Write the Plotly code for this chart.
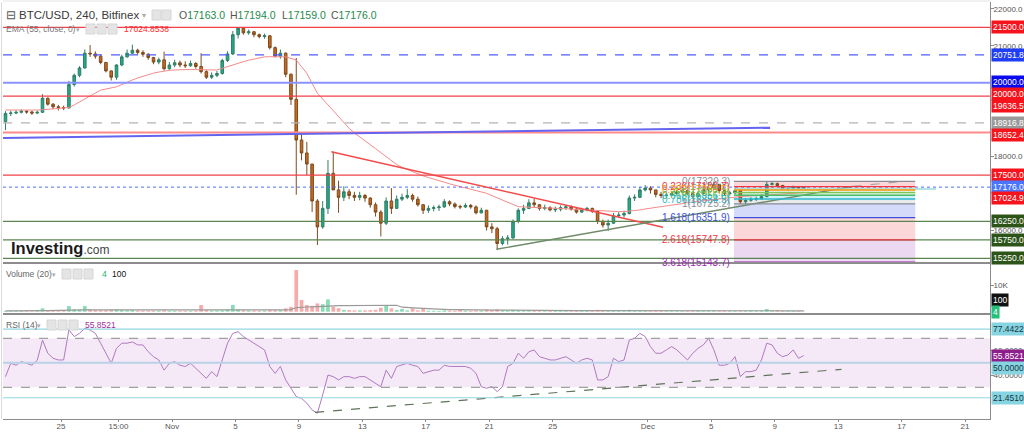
import pandas as pd
import plotly.graph_objects as go

# ---------------- data (8-hour candles) ----------------
CANDLE_START = "2022-10-21 12:00"   # centre of first candle
FIRST_OPEN = 18950

CLOSE = [
    19170, 19180,
    19200, 19230, 19210,  19180, 19200, 19580,  19420, 19350, 19330,
    19320, 19950, 20200,  20400, 20800, 20780,  20720, 20550, 20320,
    20150, 20480, 20700,  20800, 20880, 20820,  20770, 20680, 20560,
    20620, 20380, 20480,  20540, 20480, 20460,  20520, 20440, 20300,
    20150, 20200, 20250,  20600, 20780, 21300,  21480, 21350, 21380,
    21300, 21250, 21270,  20950, 20720, 20800,  20230, 19550, 18450,
    18100, 17800, 16800,  16100, 16600, 17550,  17100, 16900, 17050,
    16950, 16900, 16950,  16880, 16700, 16500,  16200, 16800, 16600,
    16850, 16900, 16950,  16850, 16700, 16550,  16600, 16620, 16640,
    16780, 16720, 16650,  16640, 16680, 16640,  16480, 16550, 16100,
    16050, 15650, 15780,  15800, 16250, 16550,  16600, 16750, 16700,
    16600, 16620, 16560,  16580, 16620, 16640,  16580, 16500, 16560,
    16600, 16520, 16250,  16150, 16200, 16400,  16420, 16460, 16880,
    16900, 17100, 17150,  17100, 16980, 16950,  16960, 17000, 17050,
    17080, 17000, 16920,  17000, 17100, 17150,  17250, 17080, 17000,
    17020, 17080, 16780,  16820, 16850, 16860,  16920, 17250, 17270,
    17220, 17130, 17140,  17180, 17140, 17176,
]
HIGH = [
    19230, 19250,
    19260, 19280, 19260,  19240, 19250, 19690,  19600, 19450, 19400,
    19380, 20050, 20250,  20450, 20900, 21020,  20850, 20750, 20560,
    20330, 20500, 20760,  20900, 21030, 20920,  20880, 20800, 20700,
    20680, 20840, 20560,  20620, 20600, 20580,  20600, 20560, 20800,
    20340, 20280, 20320,  20650, 20850, 21400,  21500, 21480, 21440,
    21400, 21330, 21330,  21290, 20980, 20900,  20820, 20250, 20670,
    18650, 18400, 17800,  16850, 16800, 17910,  18130, 17350, 17200,
    17120, 17050, 17050,  16990, 16900, 16760,  16550, 16900, 17150,
    16950, 17000, 17130,  17000, 16920, 16720,  16680, 16680, 16700,
    16850, 16820, 16760,  16700, 16740, 16720,  16680, 16620, 16560,
    16200, 16100, 15850,  15880, 16300, 16600,  16700, 16850, 16860,
    16720, 16700, 16660,  16650, 16680, 16700,  16680, 16620, 16620,
    16640, 16620, 16550,  16300, 16300, 16480,  16500, 16540, 16950,
    16980, 17180, 17230,  17200, 17100, 17050,  17020, 17060, 17100,
    17150, 17110, 17040,  17050, 17200, 17300,  17330, 17260, 17120,
    17080, 17150, 17120,  16880, 16900, 16920,  16980, 17320, 17310,
    17300, 17240, 17190,  17220, 17200, 17194,
]
LOW = [
    18720, 19100,
    19150, 19170, 19160,  19130, 19150, 19180,  19380, 19280, 19250,
    19260, 19300, 19900,  20150, 20380, 20700,  20650, 20500, 20280,
    20060, 20080, 20450,  20680, 20780, 20760,  20700, 20620, 20500,
    20500, 20330, 20350,  20420, 20420, 20400,  20430, 20380, 20250,
    20100, 20100, 20150,  20220, 20560, 20750,  21200, 21300, 21300,
    21230, 21200, 21190,  20900, 20680, 20650,  20150, 19400, 16970,
    17900, 17500, 16500,  15610, 16050, 16450,  17100, 16480, 16800,
    16850, 16800, 16820,  16780, 16620, 16380,  15840, 16150, 16450,
    16600, 16800, 16850,  16780, 16650, 16450,  16480, 16520, 16530,
    16620, 16660, 16600,  16580, 16610, 16590,  16440, 16460, 16000,
    15930, 15480, 15600,  15620, 15780, 16200,  16450, 16580, 16620,
    16540, 16550, 16520,  16500, 16520, 16560,  16540, 16460, 16480,
    16520, 16480, 16180,  16080, 15990, 16180,  16350, 16350, 16440,
    16800, 16880, 17060,  17000, 16900, 16880,  16880, 16920, 16950,
    17000, 16960, 16880,  16900, 16980, 17050,  17100, 17000, 16950,
    16950, 16980, 16720,  16720, 16780, 16800,  16840, 16900, 17220,
    17180, 17100, 17090,  17120, 17110, 17130,
]
VOLUME = [
    300, 250,
    250, 300, 250,  200, 250, 1250,  500, 400, 300,
    350, 2100, 900,  800, 2100, 900,  600, 500, 500,
    700, 900, 600,  500, 600, 400,  400, 350, 400,
    350, 500, 350,  300, 300, 300,  300, 350, 2500,
    600, 400, 400,  500, 800, 2500,  900, 500, 400,
    350, 300, 350,  600, 500, 500,  1250, 1800, 15600,
    4400, 2500, 2200,  3100, 2800, 4600,  1900, 1300, 700,
    600, 500, 500,  500, 600, 700,  1500, 2500, 1250,
    600, 1000, 500,  1250, 500, 1000,  400, 350, 300,
    500, 400, 350,  700, 400, 300,  400, 350, 800,
    500, 900, 500,  400, 700, 500,  400, 400, 350,
    300, 300, 300,  300, 300, 300,  250, 300, 300,
    300, 300, 700,  400, 400, 400,  300, 300, 700,
    400, 400, 300,  300, 350, 300,  250, 250, 250,
    250, 250, 250,  600, 300, 300,  350, 300, 300,
    250, 250, 300,  300, 400, 300,  300, 1000, 400,
    600, 300, 250,  250, 250, 100,
]
RSI = [
    38.7, 49.6,
    48.0, 51.0, 49.6,  48.0, 52.0, 68.6,  57.8, 53.7, 52.3,
    52.3, 76.8, 71.4,  74.0, 78.2, 76.8,  74.0, 66.0, 57.8,
    49.6, 61.8, 66.0,  66.0, 67.0, 64.6,  64.6, 59.0, 55.0,
    52.3, 44.0, 49.6,  51.0, 48.0, 47.0,  49.6, 45.5, 41.4,
    37.3, 42.8, 38.7,  52.3, 66.0, 74.0,  75.4, 71.4, 68.6,
    66.0, 63.2, 60.5,  47.0, 41.4, 47.0,  36.0, 29.2, 22.4,
    21.0, 17.0, 11.5,  8.8, 23.8, 40.0,  38.7, 36.0, 38.7,
    38.7, 37.3, 38.7,  38.7, 36.0, 33.3,  30.5, 44.0, 37.3,
    47.0, 48.0, 49.6,  48.0, 47.0, 41.4,  42.8, 44.0, 44.0,
    48.0, 47.0, 47.0,  47.0, 47.0, 45.5,  41.4, 30.5, 29.2,
    30.5, 26.5, 30.5,  47.0, 49.6, 57.8,  53.7, 59.0, 60.5,
    55.0, 53.7, 52.3,  52.3, 53.7, 55.0,  52.3, 49.6, 52.3,
    53.7, 52.3, 36.0,  36.0, 38.7, 53.7,  51.0, 52.3, 68.6,
    70.0, 74.0, 71.4,  63.2, 57.8, 57.8,  60.5, 63.2, 60.5,
    56.4, 52.3, 57.8,  61.8, 64.6, 70.0,  60.5, 48.0, 48.0,
    49.6, 55.0, 38.7,  42.8, 42.8, 44.0,  52.3, 66.0, 64.6,
    57.8, 55.0, 56.4,  60.5, 53.7, 55.85,
]
EMA55 = [
    19263, 19260,
    19258, 19255, 19255,  19255, 19260, 19270,  19280, 19290, 19300,
    19308, 19330, 19400,  19480, 19550, 19640,  19720, 19800, 19830,
    19860, 19890, 19950,  20020, 20075, 20130,  20180, 20230, 20260,
    20290, 20320, 20335,  20345, 20355, 20360,  20360, 20355, 20350,
    20345, 20345, 20345,  20390, 20440, 20480,  20530, 20570, 20610,
    20640, 20670, 20700,  20705, 20705, 20705,  20700, 20660, 20615,
    20434, 20254, 19984,  19714, 19560, 19398,  19245, 19082, 18920,
    18767, 18640, 18540,  18433, 18325, 18217,  18109, 18000, 17884,
    17786, 17712, 17650,  17585, 17522, 17480,  17435, 17400, 17355,
    17310, 17265, 17220,  17190, 17155, 17115,  17080, 17045, 17009,
    16946, 16883, 16820,  16757, 16694, 16648,  16640, 16630, 16630,
    16622, 16612, 16612,  16603, 16594, 16594,  16585, 16576, 16576,
    16567, 16558, 16549,  16540, 16531, 16522,  16513, 16513, 16522,
    16540, 16558, 16585,  16603, 16630, 16648,  16675, 16694, 16712,
    16730, 16757, 16775,  16793, 16811, 16829,  16847, 16856, 16874,
    16892, 16910, 16919,  16928, 16937, 16946,  16955, 16964, 16973,
    16982, 16991, 17000,  17009, 17018, 17025,
]
assert len(CLOSE) == len(HIGH) == len(LOW) == len(VOLUME) == len(RSI) == len(EMA55), \
    (len(CLOSE), len(HIGH), len(LOW), len(VOLUME), len(RSI), len(EMA55))

OPEN = [FIRST_OPEN] + CLOSE[:-1]
TIMES = pd.date_range(CANDLE_START, periods=len(CLOSE), freq="8h")

OHLC_LAST = [17163.0, 17194.0, 17159.0, 17176.0]
EMA_LAST = 17024.8538
VOL_LAST = 100
RSI_LAST = 55.8521

RED_LEVELS = [21500.0, 19636.5, 17500.0]
BLUE_DASH_LEVEL = 20751.8
BLUE_LEVEL = 20000.0
GRAY_DASH_LEVEL = 18916.8
PINK_LEVEL = 18652.4
GREEN_LEVELS = [16250.0, 15750.0, 15250.0]
PRICE_TICKS = [16000, 18000, 21000, 22000]

TREND_BLUE_T = ["2022-10-21 08:00", "2022-12-08 17:00"]
TREND_BLUE_P = [18505, 18784]
TREND_RED_T = ["2022-11-11 01:00", "2022-12-01 23:00"]
TREND_RED_P = [18134, 16089]
TREND_GREEN_T = ["2022-11-21 11:00", "2022-12-13 22:00", "2022-12-16 21:40"]
TREND_GREEN_P = [15494, 17195, 17322]
CYAN_RAY_T = ["2022-12-06 10:20", "2022-12-19 04:00"]
CYAN_RAY_P = 17125

FIB_T = ["2022-12-06 10:20", "2022-12-17 20:40"]
FIB_TOP = 17329.3
FIB_ONE = 16725.2
FIB_RATIOS = [0, 0.236, 0.382, 0.5, 0.618, 0.786, 1, 1.618, 2.618, 3.618]

RSI_BANDS = [77.4422, 21.4510]
RSI_TREND_T = ["2022-11-10 00:30", "2022-12-13 05:00"]
RSI_TREND_V = [9.6, 44.7]

X_TICKS = ["2022-10-25", "2022-10-28 15:00", "2022-11-01", "2022-11-05", "2022-11-09",
           "2022-11-13", "2022-11-17", "2022-11-21", "2022-11-25", "2022-12-01",
           "2022-12-05", "2022-12-09", "2022-12-13", "2022-12-17", "2022-12-21"]
X_TICK_TEXT = ["25", "15:00", "Nov", "5", "9", "13", "17", "21", "25", "Dec",
               "5", "9", "13", "17", "21"]

# ---------------- layout calibration (pixels) ----------------
W, HGT = 1024, 432
PL, PR, PT, PB = 3, 990, 2, 419
SEP1, SEP2 = 263, 314

def pxx(x):
    return (x - PL) / (PR - PL)

def pxy(y):
    return (PB - y) / (PB - PT)

def price_at(y):
    return 21500 - (y - 27.3) / 0.03696

def vol_at(y):
    return (311.7 - y) / 26.7 * 10000

def rsi_at(y):
    return 70 - (y - 338.3) / 1.225

T0 = pd.Timestamp("2022-10-25")
PX_PER_DAY = 15.86

def time_at(x):
    return T0 + pd.Timedelta(days=(x - 61) / PX_PER_DAY)

FONT = "Liberation Sans, Arial, sans-serif"

fig = go.Figure()

# EMA
fig.add_trace(go.Scatter(x=TIMES, y=EMA55, mode="lines",
                         line=dict(color="#f58a8a", width=1), yaxis="y", hoverinfo="skip"))
# candles
fig.add_trace(go.Candlestick(
    x=TIMES, open=OPEN, high=HIGH, low=LOW, close=CLOSE, yaxis="y",
    increasing=dict(line=dict(color="#2f7f66", width=1), fillcolor="#22a88a"),
    decreasing=dict(line=dict(color="#7d4a1c", width=1), fillcolor="#c8691f"),
    whiskerwidth=0, hoverinfo="skip"))

# volume
vol_colors = ["#86dcb4" if c >= o else "#f7aaaa" for o, c in zip(OPEN, CLOSE)]
fig.add_trace(go.Bar(x=TIMES, y=VOLUME, marker=dict(color=vol_colors, line=dict(width=0)),
                     yaxis="y2", hoverinfo="skip"))
vol_ma = pd.Series(VOLUME).rolling(20, min_periods=1).mean()
fig.add_trace(go.Scatter(x=TIMES, y=vol_ma, mode="lines", line=dict(color="#9a9a9a", width=1.2),
                         yaxis="y2", hoverinfo="skip"))

# RSI
fig.add_trace(go.Scatter(x=TIMES, y=RSI, mode="lines", line=dict(color="#b07ac0", width=1),
                         yaxis="y3", hoverinfo="skip"))
fig.add_trace(go.Scatter(x=RSI_TREND_T, y=RSI_TREND_V, mode="lines",
                         line=dict(color="#5f7359", width=1.2, dash="dash"),
                         yaxis="y3", hoverinfo="skip"))

shapes = []
def hline(y, color, width=1, dash="solid", yref="y", layer="above"):
    shapes.append(dict(type="line", xref="x domain", x0=0, x1=1, yref=yref, y0=y, y1=y,
                       line=dict(color=color, width=width, dash=dash), layer=layer))

for lv in RED_LEVELS:
    hline(lv, "#f2414a", 1.2)
hline(BLUE_DASH_LEVEL, "#4f5cff", 1.2, "dash")
hline(BLUE_LEVEL, "#8a93ff", 2.2)
hline(GRAY_DASH_LEVEL, "#b4b4b4", 1.2, "dash")
hline(PINK_LEVEL, "#ff8a8a", 2)
hline(OHLC_LAST[3], "#4e6cff", 1, "dot")
for lv in GREEN_LEVELS:
    hline(lv, "#5b8550", 1.3)

def seg(ts, ps, color, width=1.2, dash="solid", yref="y"):
    shapes.append(dict(type="line", xref="x", yref=yref, x0=ts[0], x1=ts[1], y0=ps[0], y1=ps[1],
                       line=dict(color=color, width=width, dash=dash), layer="above"))

seg(TREND_BLUE_T, TREND_BLUE_P, "#6464f0", 2)
seg(TREND_RED_T, TREND_RED_P, "#f24b4b", 1.4)
seg(TREND_GREEN_T[:2], TREND_GREEN_P[:2], "#6e8a68", 1.4)
seg(TREND_GREEN_T[1:], TREND_GREEN_P[1:], "#a5a5a5", 1.2, "dash")
seg(CYAN_RAY_T, [CYAN_RAY_P, CYAN_RAY_P], "#9ad9e4", 1.4)

# Fibonacci extension box
fib_rng = FIB_TOP - FIB_ONE
fib_prices = [FIB_TOP - r * fib_rng for r in FIB_RATIOS]
fib_line_cols = ["#8a8d96", "#f23645", "#ff9800", "#7cc85a", "#4cbb6c", "#2cb6d0",
                 "#8a8d96", "#3b4fd8", "#f23645", "#9c27b0"]
fib_fill_cols = ["rgba(242,54,69,0.20)", "rgba(205,220,57,0.25)", "rgba(76,175,80,0.22)",
                 "rgba(76,175,80,0.18)", "rgba(0,188,212,0.18)", "rgba(120,123,134,0.16)",
                 "rgba(41,72,230,0.20)", "rgba(242,54,69,0.20)", "rgba(156,39,176,0.18)"]
for i in range(len(FIB_RATIOS) - 1):
    shapes.append(dict(type="rect", xref="x", yref="y", x0=FIB_T[0], x1=FIB_T[1],
                       y0=fib_prices[i + 1], y1=fib_prices[i], fillcolor=fib_fill_cols[i],
                       line=dict(width=0), layer="below"))
for p, col in zip(fib_prices, fib_line_cols):
    shapes.append(dict(type="line", xref="x", yref="y", x0=FIB_T[0], x1=FIB_T[1], y0=p, y1=p,
                       line=dict(color=col, width=1.3), layer="above"))

# RSI band and levels
shapes.append(dict(type="rect", xref="x domain", x0=0, x1=1, yref="y3", y0=30, y1=70,
                   fillcolor="rgba(156,39,176,0.10)", line=dict(width=0), layer="below"))
hline(70, "#a0a0a0", 1.2, "dash", "y3")
hline(30, "#a0a0a0", 1.2, "dash", "y3")
hline(50, "#b9d2e6", 2, "solid", "y3")
for v in RSI_BANDS:
    hline(v, "#93d6e2", 1.2, "solid", "y3")

# pane separators and borders
for ys in (SEP1, SEP2):
    shapes.append(dict(type="line", xref="paper", x0=0, x1=1, yref="paper", y0=pxy(ys), y1=pxy(ys),
                       line=dict(color="#8c8c8c", width=2), layer="above"))
shapes.append(dict(type="line", xref="paper", x0=pxx(1.5), x1=pxx(1.5), yref="paper", y0=0, y1=1,
                   line=dict(color="#dcdcdc", width=1)))
shapes.append(dict(type="line", xref="paper", x0=0, x1=1, yref="paper", y0=pxy(1), y1=pxy(1),
                   line=dict(color="#e2e2e2", width=1)))

# legend icon boxes
def icons(xs, yc):
    for x0 in xs:
        shapes.append(dict(type="rect", xref="paper", yref="paper", x0=pxx(x0), x1=pxx(x0 + 9),
                           y0=pxy(yc + 5), y1=pxy(yc - 5), fillcolor="#e4e4e4",
                           line=dict(color="#d6d6d6", width=1), layer="above"))

icons([152, 162], 15)
icons([86, 97, 108], 29)
icons([62, 73, 84], 274)
icons([47, 58, 69], 325)

ann = []
def text(x, y, s, size, color, anchor="left"):
    ann.append(dict(x=pxx(x), y=pxy(y), xref="paper", yref="paper", text=s, showarrow=False,
                    xanchor=anchor, yanchor="middle", font=dict(size=size, color=color, family=FONT)))

text(4, 15, "⊟", 12, "#555")
text(17, 15, "BTC/USD, 240, Bitfinex", 11.5, "#3a3a3a")
text(140, 15, "▾", 8, "#aaa")
for x0, letter, val in zip([177, 228, 280, 329], "OHLC", OHLC_LAST):
    text(x0, 15, f"<span style='color:#555'>{letter}</span>{val:.1f}", 10.5, "#1f8a4c")
text(4, 29, "EMA (55, close, 0)", 8.5, "#777")
text(74, 29, "▾", 7, "#aaa")
text(122, 29, f"{EMA_LAST:.4f}", 8.5, "#ff2a2a")
text(4, 274, "Volume (20)", 8.5, "#666")
text(50, 274, "▾", 7, "#aaa")
text(100, 274, "4", 8.5, "#22b36a")
text(110, 274, str(VOL_LAST), 8.5, "#111")
text(4, 325, "RSI (14)", 8.5, "#666")
text(35, 325, "▾", 7, "#aaa")
text(83, 325, f"{RSI_LAST:.4f}", 8.5, "#9a2f9a")
text(9, 248, "<b>Investing</b><span style='font-size:12px;color:#444'>.com</span>", 16.5, "#1b1b1b")

# fib labels
for r, p, col in zip(FIB_RATIOS, fib_prices, fib_line_cols):
    ann.append(dict(x=FIB_T[0], y=p, xref="x", yref="y", xanchor="right", yanchor="middle",
                    xshift=-2, text=f"{r:g}({p:.1f})", showarrow=False,
                    font=dict(size=10, color=col, family=FONT)))

# right-hand value tags
TAG_FS = 8.5
def tag(s, y, yref, bg, fg="white", yshift=0):
    ann.append(dict(x=1, xref="paper", xanchor="left", xshift=1, y=y, yref=yref, yanchor="middle",
                    yshift=yshift, text=s, showarrow=False, bgcolor=bg, borderpad=1,
                    font=dict(size=TAG_FS, color=fg, family=FONT)))

tag(f"{RED_LEVELS[0]:.1f}", RED_LEVELS[0], "y", "#f6131c")
tag(f"{BLUE_DASH_LEVEL:.1f}", BLUE_DASH_LEVEL, "y", "#1f3df5")
tag(f"{BLUE_LEVEL:.1f}", BLUE_LEVEL, "y", "#0a0af0", yshift=1)
tag(f"{BLUE_LEVEL:.1f}", BLUE_LEVEL, "y", "#f6131c", yshift=-11)
tag(f"{RED_LEVELS[1]:.1f}", RED_LEVELS[1], "y", "#f6131c", yshift=-10)
tag(f"{GRAY_DASH_LEVEL:.1f}", GRAY_DASH_LEVEL, "y", "#9a9a9a")
tag(f"{PINK_LEVEL:.1f}", PINK_LEVEL, "y", "#f6131c", yshift=-2.5)
tag(f"{RED_LEVELS[2]:.1f}", RED_LEVELS[2], "y", "#f6131c")
tag(f"{OHLC_LAST[3]:.1f}", OHLC_LAST[3], "y", "#4a76ff")
tag(f"{EMA_LAST:.1f}", EMA_LAST, "y", "#f6131c", yshift=-5.5)
for lv in GREEN_LEVELS:
    tag(f"{lv:.1f}", lv, "y", "#2c5418")
tag(str(VOL_LAST), VOL_LAST, "y2", "#111111", yshift=11.5)
tag("4", 4, "y2", "#22c07a", yshift=-0.5)
tag(f"{RSI_BANDS[0]:.4f}", RSI_BANDS[0], "y3", "#86d4e2", "#18343c")
tag(f"{RSI_LAST:.4f}", RSI_LAST, "y3", "#8c1f8c")
tag("50.0000", 50, "y3", "#86d4e2", "#18343c", yshift=-5)
tag(f"{RSI_BANDS[1]:.4f}", RSI_BANDS[1], "y3", "#86d4e2", "#18343c")

axis_common = dict(showgrid=False, zeroline=False, showline=True, linecolor="#8c8c8c",
                   linewidth=1, ticks="outside", ticklen=3, tickcolor="#8c8c8c",
                   tickfont=dict(size=8, color="#555", family=FONT), side="right",
                   ticklabelstandoff=-2,
                   anchor="x", fixedrange=True, automargin=False)

fig.update_layout(
    width=W, height=HGT, autosize=False,
    margin=dict(l=PL, r=W - PR, t=PT, b=HGT - PB, autoexpand=False),
    paper_bgcolor="white", plot_bgcolor="white", showlegend=False,
    bargap=0.3, hovermode=False,
    xaxis=dict(type="date", range=[time_at(PL), time_at(PR)], anchor="y3",
               tickvals=X_TICKS, ticktext=X_TICK_TEXT, showgrid=False, zeroline=False,
               showline=True, linecolor="#8c8c8c", ticks="outside", ticklen=2,
               tickcolor="#8c8c8c", tickfont=dict(size=8, color="#555", family=FONT),
               ticklabelstandoff=-3,
               rangeslider=dict(visible=False), fixedrange=True, automargin=False),
    yaxis=dict(domain=[pxy(SEP1), 1], range=[price_at(SEP1), price_at(PT)],
               tickvals=PRICE_TICKS, ticktext=[f"{v:.1f}" for v in PRICE_TICKS], **axis_common),
    yaxis2=dict(domain=[pxy(SEP2), pxy(SEP1)], range=[vol_at(SEP2), vol_at(SEP1)],
                tickvals=[10000], ticktext=["10K"], **axis_common),
    yaxis3=dict(domain=[0, pxy(SEP2)], range=[rsi_at(PB), rsi_at(SEP2)],
                tickvals=[40, 60], ticktext=["40.0000", "60.0000"], **axis_common),
    shapes=shapes, annotations=ann,
)

fig.write_html("out.html", config={"displayModeBar": False, "staticPlot": True},
               post_script="document.body.style.margin='0px';document.body.style.overflow='hidden';")
